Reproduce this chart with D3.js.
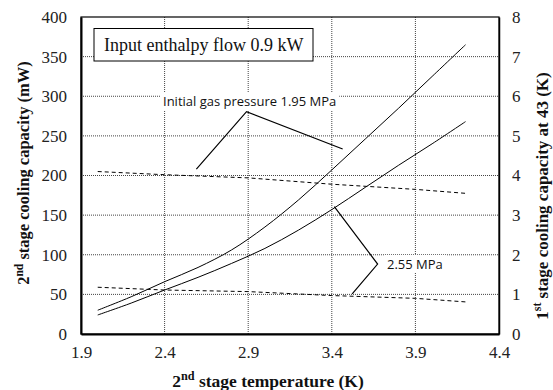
<!DOCTYPE html>
<html>
<head>
<meta charset="utf-8">
<script src="https://cdn.jsdelivr.net/npm/d3@7"></script>
<style>
  html, body { margin: 0; padding: 0; background: #fff; }
  svg { display: block; }
</style>
</head>
<body>
<svg id="chart" width="553" height="390"></svg>
<script>
// Temperatures (K) at which the 2nd stage curves are sampled
const temps = [2.0, 2.2, 2.4, 2.6, 2.8, 3.0, 3.2, 3.4, 3.6, 3.8, 4.0, 4.2];

// 2nd stage cooling capacity (mW), left axis
const cap2nd_195 = [30, 47, 66, 84, 106, 135, 169, 207, 246, 285, 325, 365];
const cap2nd_255 = [24, 39, 55.5, 71.5, 89, 108, 131, 157, 185, 213, 240, 268];

// 1st stage cooling capacity at 43 K (W), right axis
const dashTemps = [2.0, 2.4, 2.9, 3.4, 3.9, 4.2];
const cap1st_195 = [4.10, 4.02, 3.94, 3.78, 3.65, 3.55];
const cap1st_255 = [1.18, 1.11, 1.07, 0.97, 0.90, 0.81];

// Axis ticks
const xTicks = [1.9, 2.4, 2.9, 3.4, 3.9, 4.4];
const yLeftTicks = [0, 50, 100, 150, 200, 250, 300, 350, 400];
const yRightTicks = [0, 1, 2, 3, 4, 5, 6, 7, 8];

// Leader lines for the pressure labels (temperature, left-axis value)
const leader195 = [[2.59, 208], [2.89, 280.5], [3.465, 233.4]];
const leader255 = [[3.415, 160.6], [3.674, 88.3], [3.522, 50.5]];

const svg = d3.select("#chart");
const m = { left: 81, right: 499, top: 17, bottom: 334 };

const x = d3.scaleLinear().domain([1.9, 4.4]).range([m.left, m.right]);
const yL = d3.scaleLinear().domain([0, 400]).range([m.bottom, m.top]);
const yR = d3.scaleLinear().domain([0, 8]).range([m.bottom, m.top]);

const serif = "'Liberation Serif', 'Times New Roman', serif";
const sans = "'Open Sans', 'Noto Sans', sans-serif";

// Dotted grid
const grid = svg.append("g").attr("stroke", "#444").attr("stroke-width", 1)
  .attr("stroke-dasharray", "1,1");
xTicks.slice(1, -1).forEach(t => {
  grid.append("line").attr("x1", x(t)).attr("x2", x(t))
    .attr("y1", m.top).attr("y2", m.bottom);
});
yLeftTicks.slice(1, -1).forEach(t => {
  grid.append("line").attr("x1", m.left).attr("x2", m.right)
    .attr("y1", yL(t)).attr("y2", yL(t));
});

// Curves
const lineL = d3.line().x((d, i) => x(temps[i])).y(d => yL(d)).curve(d3.curveCatmullRom);
const lineR = d3.line().x((d, i) => x(dashTemps[i])).y(d => yR(d));

[cap2nd_195, cap2nd_255].forEach(s => {
  svg.append("path").attr("d", lineL(s)).attr("fill", "none")
    .attr("stroke", "#000").attr("stroke-width", 1);
});
[cap1st_195, cap1st_255].forEach(s => {
  svg.append("path").attr("d", lineR(s)).attr("fill", "none")
    .attr("stroke", "#000").attr("stroke-width", 1).attr("stroke-dasharray", "4,3");
});

// Frame and axes
svg.append("rect").attr("x", m.left).attr("y", m.top)
  .attr("width", m.right - m.left).attr("height", m.bottom - m.top)
  .attr("fill", "none").attr("stroke", "#000").attr("stroke-width", 1.2);

const axB = svg.append("g").attr("transform", `translate(0,${m.bottom})`)
  .call(d3.axisBottom(x).tickValues(xTicks).tickSize(0).tickPadding(12)
    .tickFormat(d3.format(".1f")));
const axL = svg.append("g").attr("transform", `translate(${m.left},0)`)
  .call(d3.axisLeft(yL).tickValues(yLeftTicks).tickSize(0).tickPadding(14));
const axR = svg.append("g").attr("transform", `translate(${m.right},0)`)
  .call(d3.axisRight(yR).tickValues(yRightTicks).tickSize(0).tickPadding(13));
[axB, axL, axR].forEach(a => {
  a.attr("font-family", serif).attr("font-size", 17);
  a.select(".domain").attr("stroke", "#000").attr("stroke-width", 2);
  a.selectAll("text").style("font-family", serif).style("font-size", "17px").attr("fill", "#222");
});
axR.select(".domain").attr("stroke-width", 1.5);

// Label box
const box = svg.append("g");
box.append("rect").attr("x", 94).attr("y", 28.5).attr("width", 219).attr("height", 32.5)
  .attr("fill", "#fff").attr("stroke", "#000").attr("stroke-width", 1);
box.append("text").attr("x", 104).attr("y", 51).attr("font-family", serif)
  .attr("font-size", 18).attr("fill", "#111").text("Input enthalpy flow 0.9 kW");

// Pressure annotations: text on a white patch that masks the grid
const leader = d3.line().x(d => x(d[0])).y(d => yL(d[1]));
function label(txt, px, py) {
  const g = svg.append("g");
  const r = g.append("rect").attr("fill", "#fff");
  const t = g.append("text").attr("x", px).attr("y", py)
    .attr("font-family", sans).attr("font-size", 13).attr("fill", "#111")
    .attr("dominant-baseline", "central").text(txt);
  const b = t.node().getBBox();
  r.attr("x", b.x - 3).attr("y", b.y).attr("width", b.width + 6).attr("height", b.height);
}
label("Initial gas pressure 1.95 MPa", 163, 101);
label("2.55 MPa", 387, 264);
[leader195, leader255].forEach(p => {
  svg.append("path").attr("d", leader(p)).attr("fill", "none")
    .attr("stroke", "#000").attr("stroke-width", 1.2);
});

// Axis titles
function sup(sel, base, s, rest) {
  sel.append("tspan").text(base);
  sel.append("tspan").attr("baseline-shift", "super").attr("font-size", "70%").text(s);
  sel.append("tspan").text(rest);
}
const tx = svg.append("text").attr("x", 268).attr("y", 387).attr("text-anchor", "middle")
  .attr("font-family", serif).attr("font-weight", "bold").attr("font-size", 17.5).attr("fill", "#111");
sup(tx, "2", "nd", " stage temperature (K)");

const tl = svg.append("text").attr("transform", "translate(29,173) rotate(-90)")
  .attr("text-anchor", "middle").attr("font-family", serif).attr("font-weight", "bold")
  .attr("font-size", 16.5).attr("fill", "#111");
sup(tl, "2", "nd", " stage cooling capacity (mW)");

const tr = svg.append("text").attr("transform", "translate(548,196) rotate(-90)")
  .attr("text-anchor", "middle").attr("font-family", serif).attr("font-weight", "bold")
  .attr("font-size", 17).attr("fill", "#111");
sup(tr, "1", "st", " stage cooling capacity at 43 (K)");
</script>
</body>
</html>
